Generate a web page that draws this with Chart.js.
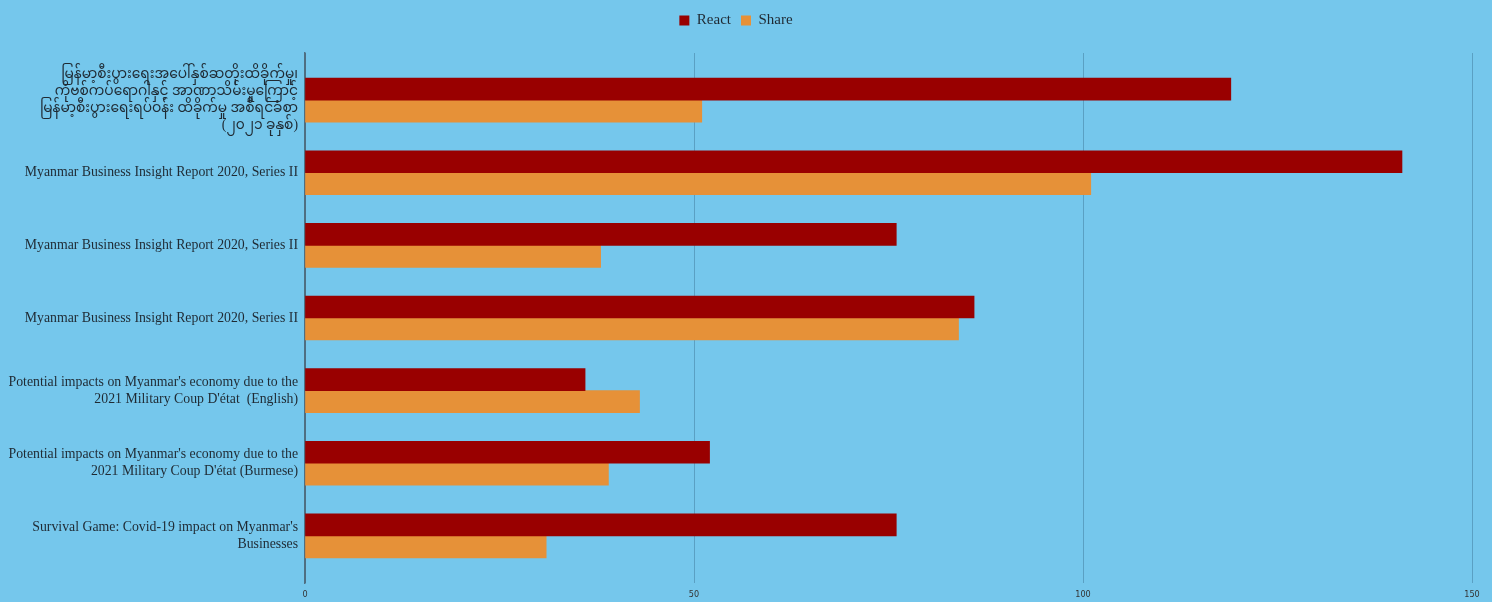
<!DOCTYPE html>
<html lang="en">
  <head>
    <meta charset="UTF-8" />
    <title>React & Share</title>
    <script src="https://cdn.jsdelivr.net/npm/chart.js"></script>
    <style>
      html,
      body {
        margin: 0;
        padding: 0;
        background: #75c7ec;
      }

      #wrap {
        width: 1492px;
        height: 602px;
      }
    </style>
  </head>
  <body>
    <div id="wrap">
      <canvas id="reportChart"></canvas>
    </div>

    <script>
      // report titles, top to bottom
      const reports = [
        [
          "မြန်မာ့စီးပွားရေးအပေါ်နှစ်ဆတိုးထိခိုက်မှု၊",
          "ကိုဗစ်ကပ်ရောဂါနှင့် အာဏာသိမ်းမှုကြောင့်",
          "မြန်မာ့စီးပွားရေးရပ်ဝန်း ထိခိုက်မှု အစီရင်ခံစာ",
          "(၂၀၂၁ ခုနှစ်)",
        ],
        "Myanmar Business Insight Report 2020, Series II",
        "Myanmar Business Insight Report 2020, Series II",
        "Myanmar Business Insight Report 2020, Series II",
        ["Potential impacts on Myanmar's economy due to the", "2021 Military Coup D'état  (English)"],
        ["Potential impacts on Myanmar's economy due to the", "2021 Military Coup D'état (Burmese)"],
        ["Survival Game: Covid-19 impact on Myanmar's", "Businesses"],
      ];
      const reactCounts = [119, 141, 76, 86, 36, 52, 76];
      const shareCounts = [51, 101, 38, 84, 43, 39, 31];
      const xTicks = [0, 50, 100, 150];

      const serif = "'Liberation Serif', 'Times New Roman', 'Noto Sans Myanmar', 'Padauk', serif";

      // push the plot down a bit below the legend, like the original
      const legendGap = {
        id: "legendGap",
        beforeInit(chart) {
          const fit = chart.legend.fit;
          chart.legend.fit = function () {
            fit.bind(chart.legend)();
            this.height += 15;
          };
        },
      };

      const ctx = document.getElementById("reportChart").getContext("2d");

      new Chart(ctx, {
        type: "bar",
        data: {
          datasets: [
            {
              label: "React",
              data: reactCounts.map((v, i) => ({ x: v, y: i })),
              backgroundColor: "#990000",
              barThickness: 22,
            },
            {
              label: "Share",
              data: shareCounts.map((v, i) => ({ x: v, y: i })),
              backgroundColor: "#e69138",
              barThickness: 22,
            },
          ],
        },
        plugins: [legendGap],
        options: {
          indexAxis: "y",
          responsive: true,
          maintainAspectRatio: false,
          animation: false,
          layout: {
            padding: { top: 3, right: 20, left: 0, bottom: 0 },
          },
          plugins: {
            tooltip: { enabled: false },
            legend: {
              position: "top",
              labels: {
                boxWidth: 10,
                boxHeight: 10,
                padding: 10,
                color: "#1f2a33",
                font: { family: serif, size: 15 },
              },
            },
          },
          scales: {
            x: {
              type: "linear",
              min: 0,
              max: 150,
              afterBuildTicks: (scale) => {
                scale.ticks = xTicks.map((v) => ({ value: v }));
              },
              afterFit: (scale) => {
                scale.height = 19;
                scale.paddingLeft = 0;
                scale.paddingRight = 0;
              },
              border: { display: false },
              grid: {
                drawTicks: false,
                color: (c) => (c.tick && c.tick.value === 0 ? "#4f6f82" : "rgba(40,90,120,0.35)"),
                lineWidth: 1,
              },
              ticks: {
                padding: 6,
                color: "#333",
                font: { family: "'Liberation Sans Narrow', 'DejaVu Sans Condensed', sans-serif", size: 9 },
              },
            },
            y: {
              type: "linear",
              reverse: true,
              offset: false,
              min: -0.65,
              max: 6.65,
              afterBuildTicks: (scale) => {
                scale.ticks = reports.map((r, i) => ({ value: i }));
              },
              afterFit: (scale) => {
                scale.width = 305;
                scale.paddingTop = 0;
                scale.paddingBottom = 0;
              },
              border: { display: true, color: "#4f6f82", width: 1.5 },
              grid: { display: false, drawTicks: false },
              ticks: {
                padding: 7,
                autoSkip: false,
                color: "#1f2a33",
                font: { family: serif, size: 13.8, lineHeight: "17px" },
                callback: (v) => reports[v],
              },
            },
          },
        },
      });
    </script>
  </body>
</html>
